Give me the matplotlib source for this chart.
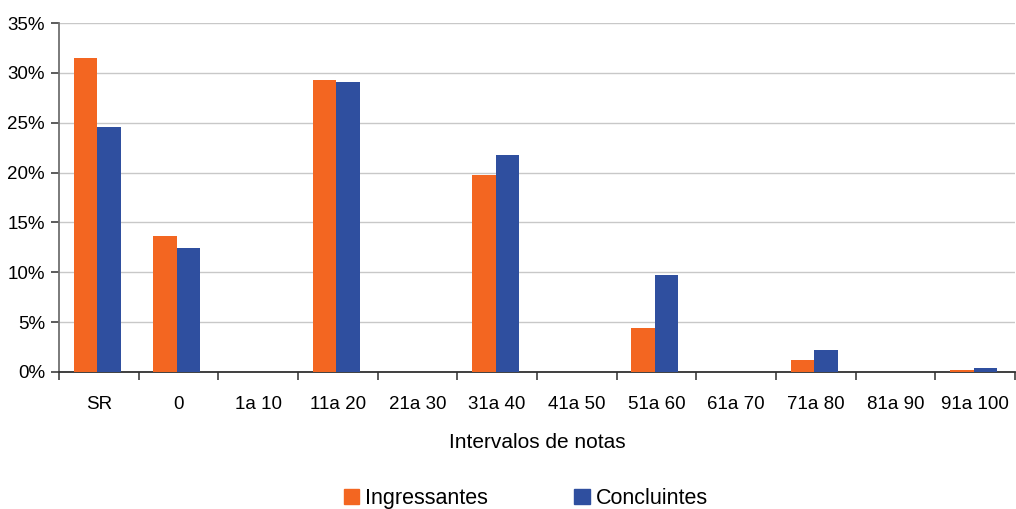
import numpy as np
import matplotlib.pyplot as plt
from matplotlib.patches import Patch
from matplotlib.ticker import FuncFormatter

# Dados
CATEGORIAS = ["SR", "0", "1a 10", "11a 20", "21a 30", "31a 40", "41a 50",
              "51a 60", "61a 70", "71a 80", "81a 90", "91a 100"]
INGRESSANTES = [31.5, 13.6, 0, 29.3, 0, 19.8, 0, 4.4, 0, 1.2, 0, 0.2]
CONCLUINTES = [24.6, 12.4, 0, 29.1, 0, 21.8, 0, 9.7, 0, 2.2, 0, 0.4]

COR_ING = "#F36621"
COR_CON = "#2F4F9F"

plt.rcParams["font.family"] = ["Liberation Sans", "DejaVu Sans"]

fig = plt.figure(figsize=(10.16, 5.09), dpi=100)
ax = fig.add_axes([59 / 1016, 1 - 372 / 509, 956 / 1016, 349 / 509])

x = np.arange(len(CATEGORIAS))
w = 0.295
ax.bar(x - w / 2 - 0.02, INGRESSANTES, width=w, color=COR_ING, zorder=3)
ax.bar(x + w / 2 - 0.02, CONCLUINTES, width=w, color=COR_CON, zorder=3)

ax.set_xlim(-0.5, len(CATEGORIAS) - 0.5)
ax.set_ylim(0, 35)
ax.set_yticks(np.arange(0, 36, 5))
ax.yaxis.set_major_formatter(FuncFormatter(lambda v, p: f"{v:.0f}%"))
ax.grid(axis="y", color="#c8c8c8", linewidth=1, zorder=0)

ax.set_xticks(x)
ax.set_xticklabels(CATEGORIAS)
ax.set_xticks(np.arange(-0.5, len(CATEGORIAS)), minor=True)
ax.tick_params(axis="x", which="major", length=0, pad=17, labelsize=13.5)
ax.tick_params(axis="x", which="minor", length=6, width=1.2, color="#404040", direction="out")
ax.tick_params(axis="y", length=6, width=1.2, color="#404040", labelsize=13.5, pad=4)

for s in ["top", "right"]:
    ax.spines[s].set_visible(False)
ax.spines["left"].set_color("#707070")
ax.spines["left"].set_linewidth(1.3)
ax.spines["bottom"].set_color("#303030")
ax.spines["bottom"].set_linewidth(1.3)

fig.text(537 / 1016, 1 - 443 / 509, "Intervalos de notas", ha="center", va="center", fontsize=15)

handles = [Patch(color=COR_ING, label="Ingressantes"), Patch(color=COR_CON, label="Concluintes")]
fig.legend(handles=handles, loc="center", bbox_to_anchor=(526 / 1016, 1 - 498.5 / 509), ncol=2,
           frameon=False, fontsize=15.5, handlelength=0.7, handleheight=0.7,
           handletextpad=0.3, columnspacing=4.0, borderaxespad=0)

fig.savefig("out.png", dpi=100)
